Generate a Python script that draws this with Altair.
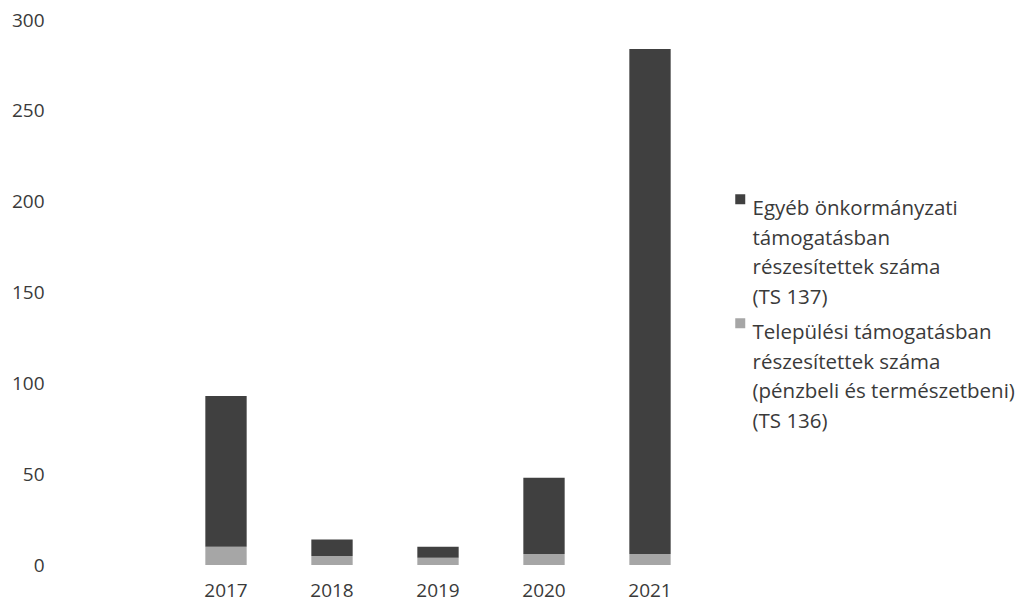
import altair as alt
import pandas as pd

years = ["2017", "2018", "2019", "2020", "2021"]
egyeb = [83, 9, 6, 42, 278]
telepulesi = [10, 5, 4, 6, 6]
series = [
    "Egyéb önkormányzati|támogatásban|részesítettek száma|(TS 137)",
    "Települési támogatásban|részesítettek száma|(pénzbeli és természetbeni)|(TS 136)",
]
y_ticks = [0, 50, 100, 150, 200, 250, 300]

rows = []
for i, y in enumerate(years):
    rows.append({"year": y, "series": series[1], "value": telepulesi[i], "ord": 0})
    rows.append({"year": y, "series": series[0], "value": egyeb[i], "ord": 1})
df = pd.DataFrame(rows)

FONT = "Open Sans"
TXT = "#3a3a3a"

chart = alt.Chart(df).mark_bar().encode(
    x=alt.X("year:N", sort=years,
            scale=alt.Scale(paddingInner=0.61, paddingOuter=0.305),
            axis=alt.Axis(title=None, labelAngle=0, domain=False, ticks=False,
                          labelPadding=16, labelFontSize=19, labelFont=FONT,
                          labelColor=TXT)),
    y=alt.Y("value:Q", stack="zero",
            scale=alt.Scale(domain=[0, 300], nice=False),
            axis=alt.Axis(title=None, values=y_ticks, grid=False, domain=False,
                          ticks=False, labelPadding=129, labelFontSize=19,
                          labelFont=FONT, labelColor=TXT)),
    color=alt.Color("series:N",
                    scale=alt.Scale(domain=series, range=["#404040", "#a6a6a6"]),
                    legend=alt.Legend(title=None, orient="none", legendX=557,
                                      legendY=169, labelExpr="split(datum.label, '|')",
                                      labelFont=FONT, labelFontSize=20.5,
                                      labelColor=TXT, symbolType="square",
                                      symbolSize=100, symbolStrokeWidth=0,
                                      labelBaseline="top", rowPadding=4,
                                      labelOffset=2, labelLimit=400)),
    order=alt.Order("ord:Q", sort="ascending"),
).properties(
    width=530, height=545,
    autosize=alt.AutoSizeParams(type="none"),
    padding={"left": 165, "top": 12, "right": 320, "bottom": 45},
).configure(
    style={"guide-label": {"lineHeight": 29.5}},
    view={"strokeWidth": 0, "stroke": None},
)

chart.save("out.html", embed_options={"renderer": "svg", "actions": False})
